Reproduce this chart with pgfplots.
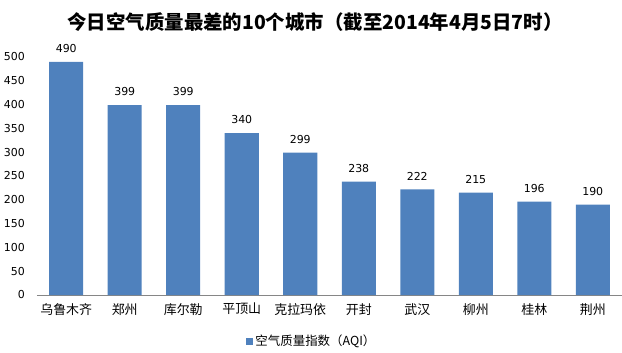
\documentclass[border=0pt]{standalone}
\usepackage{fontspec}
\usepackage{pgfplots}
\pgfplotsset{compat=1.18}
\setmainfont{DejaVu Sans}
\newfontfamily\cjk{Noto Sans CJK SC}
\definecolor{barblue}{HTML}{4F81BD}
\definecolor{axgray}{HTML}{868686}
\begin{document}
\begin{tikzpicture}
\path[use as bounding box] (-37bp,-58bp) rectangle (585bp,295bp);
\begin{axis}[
  at={(0,0)}, anchor=south west,
  scale only axis, width=585bp, height=238bp,
  xmin=-0.5, xmax=9.5, ymin=0, ymax=500,
  enlargelimits=false, clip=false,
  axis x line*=bottom, axis y line*=left,
  x axis line style={axgray, line width=1bp},
  y axis line style={draw=none},
  major tick length=0pt,
  xtick={0,...,9},
  xticklabels={乌鲁木齐,郑州,库尔勒,平顶山,克拉玛依,开封,武汉,柳州,桂林,荆州},
  xticklabel style={font=\cjk\fontsize{13}{14}\selectfont, anchor=north, inner sep=0pt, yshift=-8bp},
  ytick={0,50,...,500},
  yticklabel style={font=\fontsize{11}{12}\selectfont, anchor=east, inner sep=0pt, xshift=-12bp},
  /pgf/number format/assume math mode=true,
  ybar, bar width=34bp,
  nodes near coords,
  every node near coord/.append style={font=\fontsize{11}{12}\selectfont, anchor=south, inner sep=0pt, yshift=9bp},
  legend style={at={(0.47,-0.195)}, anchor=center, draw=none, fill=none, font=\cjk\fontsize{12.5}{14}\selectfont, inner sep=0pt},
  legend image code/.code={\fill[barblue] (0bp,-3.5bp) rectangle (7bp,3.5bp);},
]
\addplot[fill=barblue, draw=none] coordinates {(0,490) (1,399) (2,399) (3,340) (4,299) (5,238) (6,222) (7,215) (8,196) (9,190)};
\legend{空气质量指数（AQI）}
\end{axis}
\node[font=\cjk\bfseries\fontsize{19.5}{22}\selectfont] at (278bp,273bp) {今日空气质量最差的10个城市（截至2014年4月5日7时）};
\end{tikzpicture}
\end{document}
